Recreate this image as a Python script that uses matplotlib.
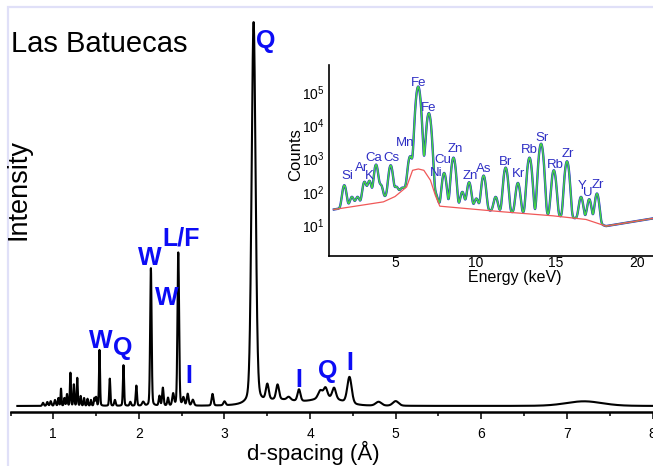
import numpy as np
import matplotlib
matplotlib.use('Agg')
import matplotlib.pyplot as plt
from matplotlib.patches import Rectangle
from matplotlib.ticker import MultipleLocator, FixedLocator, NullLocator

plt.rcParams['font.family'] = ['Liberation Sans', 'DejaVu Sans']

# ---------------- XRD pattern (main) : peaks ----------------
xrd_center = [0.88, 0.93, 0.97, 1.02, 1.06, 1.09, 1.13, 1.16, 1.20, 1.24, 1.28, 1.32,
              1.36, 1.40, 1.44, 1.48, 1.50, 1.54, 1.66, 1.72, 1.82, 1.90, 1.97, 2.05,
              2.14, 2.24, 2.28, 2.34, 2.40, 2.46, 2.52, 2.57, 2.63, 2.86, 3.00, 3.34,
              3.50, 3.62, 3.75, 3.87, 4.12, 4.18, 4.28, 4.46, 4.80, 5.00, 7.20,
              3.65, 4.20]
xrd_height = [0.8, 1.0, 1.2, 1.5, 2.0, 4.4, 2.0, 3.0, 8.5, 5.5, 7.2, 2.5,
              2.0, 1.8, 1.5, 2.0, 2.2, 14.5, 7.0, 1.5, 10.5, 1.0, 5.2, 1.0,
              35.5, 2.5, 4.6, 2.0, 3.0, 39.5, 2.0, 3.0, 1.5, 3.0, 1.0, 98.4,
              4.0, 3.8, 0.8, 3.0, 2.0, 2.5, 2.8, 6.8, 1.0, 1.2, 1.2,
              1.5, 2.0]
xrd_fwhm = [0.02, 0.02, 0.02, 0.02, 0.015, 0.012, 0.015, 0.015, 0.014, 0.014, 0.014, 0.015,
            0.015, 0.015, 0.015, 0.015, 0.015, 0.014, 0.016, 0.02, 0.016, 0.02, 0.018, 0.03,
            0.02, 0.02, 0.02, 0.02, 0.025, 0.022, 0.025, 0.025, 0.03, 0.025, 0.03, 0.055,
            0.04, 0.04, 0.05, 0.04, 0.06, 0.05, 0.05, 0.06, 0.08, 0.08, 0.5,
            0.5, 0.4]
xrd_baseline = 1.55
d_range = (0.58, 8.0)

main_labels = ['Q', 'W', 'L/F', 'W', 'W', 'Q', 'I', 'I', 'Q', 'I']
main_label_d = [3.485, 2.13, 2.49, 2.33, 1.557, 1.814, 2.585, 3.87, 4.21, 4.466]
main_label_y = [93.8, 37.9, 42.8, 27.6, 16.5, 14.7, 7.5, 6.4, 8.8, 10.8]

# ---------------- XRF spectrum (inset) ----------------
xrf_peak_E = [1.85, 2.32, 2.67, 3.10, 3.41, 3.82, 4.13, 4.44, 4.73, 5.08, 5.42, 5.93,
              6.44, 7.10, 7.52, 8.05, 8.63, 9.18, 9.60, 10.05, 10.50, 11.25, 11.87,
              12.63, 13.35, 14.07, 14.86, 15.68, 16.55, 17.06, 17.54]
xrf_peak_log = [2.2, 1.85, 1.85, 2.3, 2.33, 2.82, 2.2, 1.85, 2.8, 2.15, 2.12, 3.07,
                5.17, 4.37, 1.97, 2.57, 3.03, 2.0, 2.29, 1.8, 2.49, 1.85, 2.73,
                2.27, 3.03, 3.45, 2.65, 2.92, 1.85, 1.78, 1.95]
xrf_sigma = 0.105
xrf_bg_E = [1.2, 4.28, 5.0, 5.72, 6.09, 6.45, 6.79, 7.2, 7.5, 7.78, 11.7, 14.8, 16.86, 18.1, 21.0]
xrf_bg_log = [1.47, 1.70, 1.86, 2.15, 2.65, 2.69, 2.65, 2.35, 1.90, 1.57, 1.40, 1.28, 1.17, 0.97, 1.2]
E_range = (1.2, 21.0)

xrf_labels = ['Si', 'Ar', 'K', 'Ca', 'Cs', 'Mn', 'Fe', 'Fe', 'Ni', 'Cu', 'Zn', 'Zn', 'As',
              'Br', 'Kr', 'Rb', 'Sr', 'Rb', 'Zr', 'Y', 'U', 'Zr']
xrf_label_E = [2.02, 2.95, 3.39, 3.70, 4.75, 5.62, 6.49, 7.11, 7.55, 7.98, 8.73, 9.66, 10.53,
               11.89, 12.64, 13.32, 14.13, 14.94, 15.75, 16.61, 16.99, 17.61]
xrf_label_log = [2.47, 2.71, 2.47, 3.01, 3.01, 3.46, 5.29, 4.54, 2.56, 2.95, 3.28, 2.47, 2.68,
                 2.89, 2.53, 3.25, 3.61, 2.80, 3.13, 2.17, 1.96, 2.20]

# ---------------- build profiles ----------------
def pvoigt(x, c, h, w, eta=0.2):
    g = np.exp(-4 * np.log(2) * (x - c) ** 2 / w ** 2)
    l = 1.0 / (1.0 + ((x - c) / (w / 2)) ** 2)
    return h * (eta * l + (1 - eta) * g)

d = np.linspace(d_range[0], d_range[1], 4000)
intensity = np.full_like(d, xrd_baseline)
for c, h, w in zip(xrd_center, xrd_height, xrd_fwhm):
    intensity += pvoigt(d, c, h, w)

E = np.linspace(E_range[0], E_range[1], 3000)
bg = 10 ** np.interp(E, xrf_bg_E, xrf_bg_log)
fit = bg.copy()
for ep, lp in zip(xrf_peak_E, xrf_peak_log):
    amp = 10 ** lp - 10 ** np.interp(ep, xrf_bg_E, xrf_bg_log)
    fit += max(amp, 0) * np.exp(-(E - ep) ** 2 / (2 * xrf_sigma ** 2))

# ---------------- figure ----------------
W, H = 653, 466
fig = plt.figure(figsize=(W / 100, H / 100), dpi=100)

fig.add_artist(Rectangle((7.5 / W, -0.05), 1.2, (H - 6.5) / H + 0.05,
                         transform=fig.transFigure, fill=False,
                         edgecolor='#e0e0f8', lw=1.6, zorder=0))

ax = fig.add_axes([10.5 / W, 1 - 412 / H, 642 / W, 392 / H])
ax.patch.set_alpha(0)
ax.plot(d, intensity, color='black', lw=1.5)
ax.set_xlim(0.5, 8.0)
ax.set_ylim(0, 101)
for s in ['top', 'right', 'left']:
    ax.spines[s].set_visible(False)
ax.spines['bottom'].set_linewidth(1.8)
ax.yaxis.set_major_locator(NullLocator())
ax.xaxis.set_major_locator(MultipleLocator(1))
ax.xaxis.set_minor_locator(MultipleLocator(0.5))
ax.tick_params(axis='x', which='major', length=5, width=1.1, labelsize=10, pad=6)
ax.tick_params(axis='x', which='minor', length=3, width=1.1)
ax.set_xlabel('d-spacing (Å)', fontsize=16)
ax.xaxis.set_label_coords((313 - 10.5) / 642, (412 - 441) / 392)
ax.set_ylabel('Intensity', fontsize=19.5)
ax.yaxis.set_label_coords((32 - 10.5) / 642, (412 - 190) / 392)

for lab, xd, yv in zip(main_labels, main_label_d, main_label_y):
    ax.text(xd, yv, lab, color='#0c0cf5', fontsize=18, fontweight='bold',
            ha='center', va='baseline')

fig.text(11 / W, 1 - 52 / H, 'Las Batuecas', fontsize=21, ha='left', va='baseline')

# ---------------- inset ----------------
axi = fig.add_axes([329 / W, 1 - 256 / H, 324 / W, 191 / H])
axi.patch.set_alpha(0)
axi.set_yscale('log')
axi.plot(E, fit, color='#1f1fd0', lw=1.7)
axi.plot(E, fit, color='#45d445', lw=1.1)
axi.plot(xrf_bg_E, [10 ** v for v in xrf_bg_log], color='#f05858', lw=0.9)
axi.set_xlim(0.9, 21.02)
axi.set_ylim(10 ** 0.07, 10 ** 5.82)
for s in ['top', 'right']:
    axi.spines[s].set_visible(False)
axi.spines['left'].set_linewidth(1.2)
axi.spines['bottom'].set_linewidth(1.2)
axi.xaxis.set_major_locator(FixedLocator([5, 10, 15, 20]))
axi.yaxis.set_major_locator(FixedLocator([1e1, 1e2, 1e3, 1e4, 1e5]))
axi.yaxis.set_minor_locator(NullLocator())
axi.tick_params(axis='both', which='both', length=0, labelsize=10)
axi.tick_params(axis='x', pad=0.2)
axi.tick_params(axis='y', pad=3)
axi.set_xlabel('Energy (keV)', fontsize=11.5)
axi.xaxis.set_label_coords((515 - 329) / 324, (256 - 270) / 191)
axi.set_ylabel('Counts', fontsize=12)
axi.yaxis.set_label_coords((303 - 329) / 324, (256 - 155) / 191)

for lab, xe, ly in zip(xrf_labels, xrf_label_E, xrf_label_log):
    axi.text(xe, 10 ** ly, lab, color='#2e2ec4', fontsize=9.5, ha='center', va='center')

fig.savefig('out.png', dpi=100)
